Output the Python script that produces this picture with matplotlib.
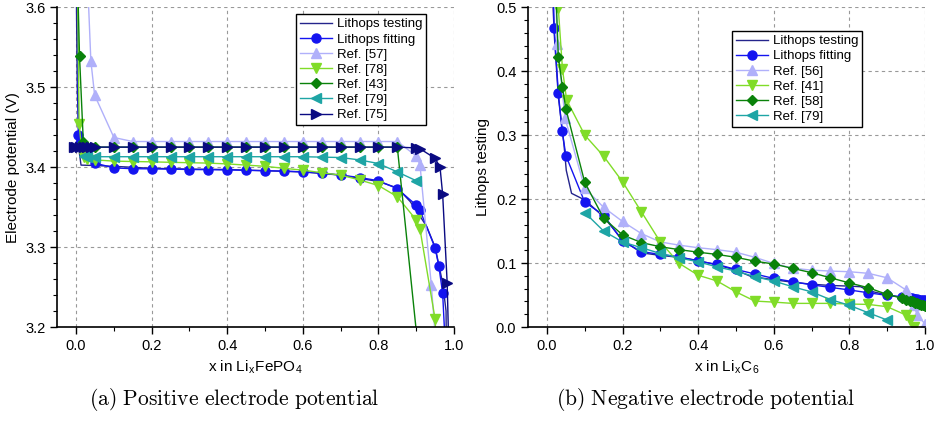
import numpy as np
import matplotlib
matplotlib.use("Agg")
import matplotlib.pyplot as plt
from matplotlib.ticker import MultipleLocator, FormatStrFormatter

plt.rcParams["font.family"] = ["Liberation Sans", "DejaVu Sans"]
plt.rcParams["mathtext.fontset"] = "cm"

# ---- (a) positive electrode, x in LixFePO4 ----
steps_a = [0.1, 0.15, 0.2, 0.25, 0.3, 0.35, 0.4, 0.45, 0.5, 0.55, 0.6, 0.65, 0.7, 0.75, 0.8, 0.85]

testing_a_x = [0.0, 0.003, 0.008, 0.013, 0.05, 0.1, 0.2, 0.3, 0.4, 0.5, 0.6, 0.7, 0.8, 0.85,
               0.884, 0.9, 0.928, 0.95, 0.97, 0.979, 0.981]
testing_a_y = [3.65, 3.5, 3.42, 3.4025, 3.402, 3.401, 3.3985, 3.3975, 3.397, 3.3955, 3.394, 3.39,
               3.382, 3.374, 3.357, 3.346, 3.3255, 3.30, 3.255, 3.22, 3.1]

fitting_a_x = [0.003, 0.006, 0.01, 0.03, 0.05] + steps_a + [0.9, 0.91, 0.95, 0.96, 0.97, 0.985]
fitting_a_y = [3.65, 3.44, 3.43, 3.415, 3.405,
               3.399, 3.398, 3.3978, 3.3975, 3.397, 3.3968, 3.3965, 3.396, 3.3955, 3.395,
               3.394, 3.3925, 3.39, 3.387, 3.383, 3.373,
               3.3525, 3.346, 3.299, 3.276, 3.242, 3.1]

ref57_x = [0.028, 0.039, 0.049] + steps_a + [0.9, 0.91, 0.94, 0.965]
ref57_y = [3.66, 3.533, 3.49,
           3.437, 3.432, 3.432, 3.432, 3.432, 3.432, 3.432, 3.432, 3.432, 3.432,
           3.432, 3.432, 3.432, 3.432, 3.432, 3.432,
           3.414, 3.403, 3.2525, 3.1]

ref78_x = [0.003, 0.008, 0.015, 0.02, 0.03, 0.05] + steps_a + [0.9, 0.91, 0.95, 0.96]
ref78_y = [3.65, 3.454, 3.42, 3.413, 3.41, 3.409,
           3.4075, 3.407, 3.4066, 3.406, 3.4055, 3.405, 3.404, 3.4025, 3.401, 3.3985,
           3.3962, 3.393, 3.39, 3.384, 3.377, 3.363,
           3.334, 3.3225, 3.21, 3.1]

ref43_x = [0.003, 0.009, 0.019, 0.05] + steps_a + [0.91]
ref43_y = [3.65, 3.539, 3.432, 3.425] + [3.425] * 16 + [3.15]

ref79a_x = [0.02, 0.03, 0.05] + steps_a + [0.9]
ref79a_y = [3.414, 3.413, 3.413,
            3.413, 3.413, 3.413, 3.413, 3.413, 3.413, 3.413, 3.413, 3.413, 3.413,
            3.413, 3.4125, 3.412, 3.409, 3.4045, 3.394, 3.383]

ref75_x = [-0.006, 0.0, 0.01, 0.02, 0.03, 0.04, 0.05] + steps_a + [0.9, 0.91, 0.95, 0.963, 0.97, 0.982, 0.99]
ref75_y = [3.425] * 23 + [3.424, 3.423, 3.411, 3.4, 3.366, 3.255, 3.1]

# ---- (b) negative electrode, x in LixC6 ----
steps_b = [0.1, 0.15, 0.2, 0.25, 0.3, 0.35, 0.4, 0.45, 0.5, 0.55, 0.6, 0.65, 0.7, 0.75, 0.8, 0.85, 0.9]
dense_b = [0.94, 0.95, 0.96, 0.965, 0.97, 0.975, 0.98, 0.985, 0.99, 0.995, 1.0]

testing_b_x = [0.012, 0.02, 0.03, 0.045, 0.051, 0.065, 0.092, 0.1, 0.15, 0.2, 0.25, 0.3, 0.35, 0.4,
               0.45, 0.5, 0.54, 0.6, 0.65, 0.7, 0.75, 0.8, 0.83, 0.85, 0.9, 0.95, 1.0]
testing_b_y = [0.55, 0.45, 0.36, 0.285, 0.245, 0.209, 0.201, 0.199, 0.172, 0.136, 0.116, 0.112, 0.109,
               0.104, 0.097, 0.089, 0.079, 0.074, 0.070, 0.067, 0.065, 0.064, 0.063, 0.057, 0.050,
               0.046, 0.043]

fitting_b_x = [0.016, 0.019, 0.03, 0.04, 0.05] + steps_b + dense_b
fitting_b_y = [0.55, 0.467, 0.366, 0.307, 0.268,
               0.195, 0.175, 0.134, 0.118, 0.1135, 0.110, 0.103, 0.098, 0.090, 0.083, 0.076,
               0.071, 0.066, 0.062, 0.058, 0.0536, 0.0495,
               0.047, 0.046, 0.0455, 0.045, 0.0445, 0.044, 0.0435, 0.043, 0.0425, 0.042, 0.042]

ref56_x = [0.022, 0.027, 0.048] + steps_b + [0.95, 0.97, 0.98, 1.0]
ref56_y = [0.55, 0.442, 0.326,
           0.217, 0.187, 0.165, 0.146, 0.133, 0.128, 0.124, 0.121, 0.117, 0.109, 0.0995,
           0.092, 0.089, 0.0875, 0.0865, 0.084, 0.077,
           0.058, 0.034, 0.019, 0.005]

ref41_x = [0.028, 0.03, 0.041, 0.052] + steps_b + [0.95, 0.96, 0.97]
ref41_y = [0.56, 0.498, 0.403, 0.355,
           0.300, 0.267, 0.227, 0.180, 0.133, 0.0995, 0.081, 0.072, 0.055, 0.0406, 0.039,
           0.037, 0.037, 0.037, 0.036, 0.0354, 0.0318,
           0.0188, 0.011, 0.0005]

ref58_x = [0.022, 0.03, 0.041, 0.05] + steps_b + dense_b
ref58_y = [0.55, 0.422, 0.375, 0.341,
           0.226, 0.170, 0.144, 0.132, 0.1255, 0.121, 0.117, 0.1135, 0.109, 0.103, 0.0985,
           0.0917, 0.085, 0.077, 0.069, 0.0615, 0.051,
           0.045, 0.043, 0.041, 0.040, 0.039, 0.038, 0.037, 0.036, 0.035, 0.034, 0.033]

ref79b_x = steps_b
ref79b_y = [0.179, 0.150, 0.133, 0.124, 0.115, 0.108, 0.102, 0.094, 0.0875, 0.0787, 0.072,
            0.063, 0.055, 0.043, 0.034, 0.0224, 0.011]

c_test = "#24248c"
c_fit = "#1414f0"
c_lav = "#b0b0fa"
c_yg = "#80dc28"
c_green = "#0a820a"
c_teal = "#1ea5a5"
c_navy = "#0a0a82"
ms = 6.5

fig = plt.figure(figsize=(9.38, 4.22), dpi=100)
ax1 = fig.add_axes([0.061, 0.225, 0.423, 0.758])
ax2 = fig.add_axes([0.563, 0.225, 0.423, 0.758])

ax1.plot(testing_a_x, testing_a_y, color=c_test, lw=1.0, label="Lithops testing")
ax1.plot(fitting_a_x, fitting_a_y, color=c_fit, lw=1.0, marker="o", ms=ms, label="Lithops fitting")
ax1.plot(ref57_x, ref57_y, color=c_lav, lw=1.0, marker="^", ms=ms, label="Ref. [57]")
ax1.plot(ref78_x, ref78_y, color=c_yg, lw=1.0, marker="v", ms=ms, label="Ref. [78]")
ax1.plot(ref43_x, ref43_y, color=c_green, lw=1.0, marker="D", ms=ms - 1, label="Ref. [43]")
ax1.plot(ref79a_x, ref79a_y, color=c_teal, lw=1.0, marker="<", ms=ms, label="Ref. [79]")
ax1.plot(ref75_x, ref75_y, color=c_navy, lw=1.0, marker=">", ms=ms, label="Ref. [75]")

ax2.plot(testing_b_x, testing_b_y, color=c_test, lw=1.0, label="Lithops testing")
ax2.plot(fitting_b_x, fitting_b_y, color=c_fit, lw=1.0, marker="o", ms=ms, label="Lithops fitting")
ax2.plot(ref56_x, ref56_y, color=c_lav, lw=1.0, marker="^", ms=ms, label="Ref. [56]")
ax2.plot(ref41_x, ref41_y, color=c_yg, lw=1.0, marker="v", ms=ms, label="Ref. [41]")
ax2.plot(ref58_x, ref58_y, color=c_green, lw=1.0, marker="D", ms=ms - 1, label="Ref. [58]")
ax2.plot(ref79b_x, ref79b_y, color=c_teal, lw=1.0, marker="<", ms=ms, label="Ref. [79]")

ax1.set_xlim(-0.05, 1.0)
ax1.set_ylim(3.2, 3.6)
ax1.set_ylabel("Electrode potential (V)", fontsize=11)
ax1.set_xlabel(r"x in Li$_\mathregular{x}$FePO$_\mathregular{4}$", fontsize=11)

ax2.set_xlim(-0.05, 1.0)
ax2.set_ylim(0.0, 0.5)
ax2.set_ylabel("Lithops testing", fontsize=11)
ax2.set_xlabel(r"x in Li$_\mathregular{x}$C$_\mathregular{6}$", fontsize=11)

for ax in (ax1, ax2):
    ax.xaxis.set_major_locator(MultipleLocator(0.2))
    ax.xaxis.set_minor_locator(MultipleLocator(0.1))
    ax.yaxis.set_major_locator(MultipleLocator(0.1))
    ax.yaxis.set_minor_locator(MultipleLocator(0.02))
    ax.xaxis.set_major_formatter(FormatStrFormatter("%.1f"))
    ax.yaxis.set_major_formatter(FormatStrFormatter("%.1f"))
    ax.spines["top"].set_visible(False)
    ax.spines["right"].set_visible(False)
    ax.spines["left"].set_linewidth(1.2)
    ax.spines["bottom"].set_linewidth(1.2)
    ax.tick_params(which="major", direction="out", length=5, width=1.0, labelsize=10.5)
    ax.tick_params(which="minor", direction="out", length=3, width=0.8)
    ax.grid(True, which="major", color="#999999", ls=(0, (3, 3)), lw=0.8)
    ax.set_axisbelow(True)

leg_kw = dict(fontsize=9.5, frameon=True, fancybox=False, edgecolor="black", framealpha=1,
              loc="upper left", borderaxespad=0, labelspacing=0.22, handlelength=2.4,
              handletextpad=0.4, borderpad=0.3)
l1 = ax1.legend(bbox_to_anchor=(0.602, 0.978), **leg_kw)
l2 = ax2.legend(bbox_to_anchor=(0.514, 0.925), **leg_kw)
for leg in (l1, l2):
    leg.get_frame().set_linewidth(1.0)

# captions in a Computer Modern look
fig.text(0.25, 0.022, r"$\mathrm{(a)\ Positive\ electrode\ potential}$",
         fontsize=15.5, ha="center", va="bottom")
fig.text(0.752, 0.022, r"$\mathrm{(b)\ Negative\ electrode\ potential}$",
         fontsize=15.5, ha="center", va="bottom")

fig.savefig("out.png", dpi=100)
